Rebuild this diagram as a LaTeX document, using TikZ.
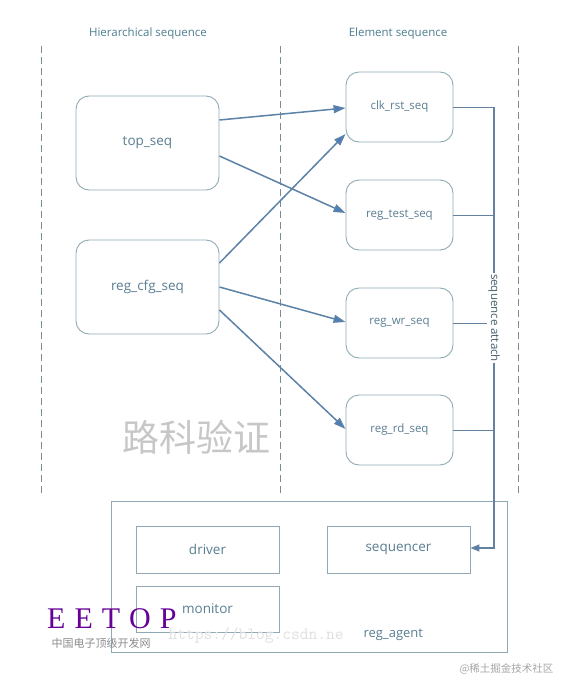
\documentclass[tikz,border=0pt]{standalone}
\usepackage{fontspec}
\setmainfont{Open Sans}
\newfontfamily\cjkfont{Noto Sans CJK SC}
\newfontfamily\serifwm{Liberation Serif}
\usetikzlibrary{arrows.meta}
\definecolor{txt}{HTML}{5A7E92}
\definecolor{bord}{HTML}{8FAAB6}
\definecolor{arr}{HTML}{5D82A8}
\definecolor{tip}{HTML}{4A7EC0}
\definecolor{dash}{HTML}{7C8C94}
\begin{document}
\begin{tikzpicture}[x=1pt,y=-1pt,
  seqbox/.style={draw=bord,line width=0.9pt,rounded corners=13pt,text=txt,inner sep=0pt},
  sqbox/.style={draw=bord,line width=0.9pt,text=txt,inner sep=0pt},
  conn/.style={draw=arr,line width=1.5pt,-{Triangle[length=12pt,width=8pt,fill=tip]}},
  attach/.style={draw=arr!80!gray,line width=1pt},
  sep/.style={draw=dash,line width=0.7pt,dash pattern=on 7pt off 4pt},
  hdr/.style={text=txt!85!teal,font=\fontsize{11.5}{14}\selectfont}]
\useasboundingbox (0,0) rectangle (560,680);
\fill[white] (0,0) rectangle (560,680);
% separators
\draw[sep] (41,46) -- (41,495);
\draw[sep] (280,46) -- (280,495);
\draw[sep] (518,46) -- (518,495);
% headers
\node[hdr] (h1) at (148,34) {Hierarchical sequence};
\node[hdr] (h2) at (398,34) {Element sequence};
% hierarchical
\node[seqbox,minimum width=143pt,minimum height=94pt,font=\fontsize{13.5}{16}\selectfont] (top) at (147.5,143) {top\_seq};
\node[seqbox,minimum width=143pt,minimum height=94pt,font=\fontsize{13.5}{16}\selectfont] (cfg) at (147.5,287) {reg\_cfg\_seq};
% element
\node[seqbox,minimum width=107pt,minimum height=70pt,font=\fontsize{11.5}{14}\selectfont] (clk) at (399.5,107) {clk\_rst\_seq};
\node[seqbox,minimum width=107pt,minimum height=70pt,font=\fontsize{11.5}{14}\selectfont] (test) at (399.5,215) {reg\_test\_seq};
\node[seqbox,minimum width=107pt,minimum height=70pt,font=\fontsize{11.5}{14}\selectfont] (wr) at (399.5,323) {reg\_wr\_seq};
\node[seqbox,minimum width=107pt,minimum height=70pt,font=\fontsize{11.5}{14}\selectfont] (rd) at (399.5,430) {reg\_rd\_seq};
% arrows
\draw[conn] (top.east |- 0,120) -- (clk.west |- 0,108);
\draw[conn] (top.east |- 0,156) -- (test.west |- 0,213);
\draw[conn] (cfg.east |- 0,263) -- (clk.west |- 0,134);
\draw[conn] (cfg.east |- 0,287) -- (wr.west |- 0,322);
\draw[conn] (cfg.east |- 0,310) -- (rd.west |- 0,429);
% agent
\node[sqbox,minimum width=396pt,minimum height=151pt] (agent) at (309,576.5) {};
\node[sqbox,minimum width=143pt,minimum height=47pt,font=\fontsize{13.5}{16}\selectfont] (drv) at (207.5,549.5) {driver};
\node[sqbox,minimum width=143pt,minimum height=47pt,font=\fontsize{13.5}{16}\selectfont] (sqr) at (398.5,549.5) {sequencer};
\node[sqbox,minimum width=143pt,minimum height=46pt,font=\fontsize{13.5}{16}\selectfont] (mon) at (207.5,609) {monitor};
\node[text=txt,font=\fontsize{13}{15}\selectfont,anchor=west] (agl) at (360,635) {reg\_agent};
% sequence attach
\coordinate (bus) at (494,107);
\coordinate (busb) at (494,548);
\draw[attach] (clk.east) -- (bus);
\draw[attach] (test.east) -- (bus |- test.east);
\draw[attach] (wr.east) -- (bus |- wr.east);
\draw[attach] (rd.east) -- (bus |- rd.east);
\draw[attach,line width=1.5pt,-{Triangle[length=9pt,width=7pt,fill=tip]}] (bus) -- (busb) -- (sqr.east |- busb);
\node[fill=white,text=txt!75!black,rotate=-90,inner sep=1pt,font=\fontsize{11.5}{14}\selectfont] (att) at (494,318) {sequence attach};
% watermarks
\node[text=black!22,font=\cjkfont\fontsize{37}{40}\selectfont] (wm1) at (196,437) {路科验证};
\node[text=violet!80!blue,font=\serifwm\fontsize{30}{32}\selectfont,anchor=west,inner sep=0pt] (wm2) at (47,619) {E\hspace{9pt}E\hspace{9pt}T\hspace{9pt}O\hspace{9pt}P};
\node[text=black!45,font=\cjkfont\fontsize{11}{13}\selectfont,anchor=west] (wm3) at (48,643) {中国电子顶级开发网};
\node[text=black!12,font=\ttfamily\fontsize{17}{19}\selectfont,anchor=west] (wm4) at (165,636) {https://blog.csdn.ne};
\node[text=black!35,font=\cjkfont\fontsize{10.5}{12}\selectfont,anchor=east] (wm5) at (557,669) {@稀土掘金技术社区};
\end{tikzpicture}
\end{document}
